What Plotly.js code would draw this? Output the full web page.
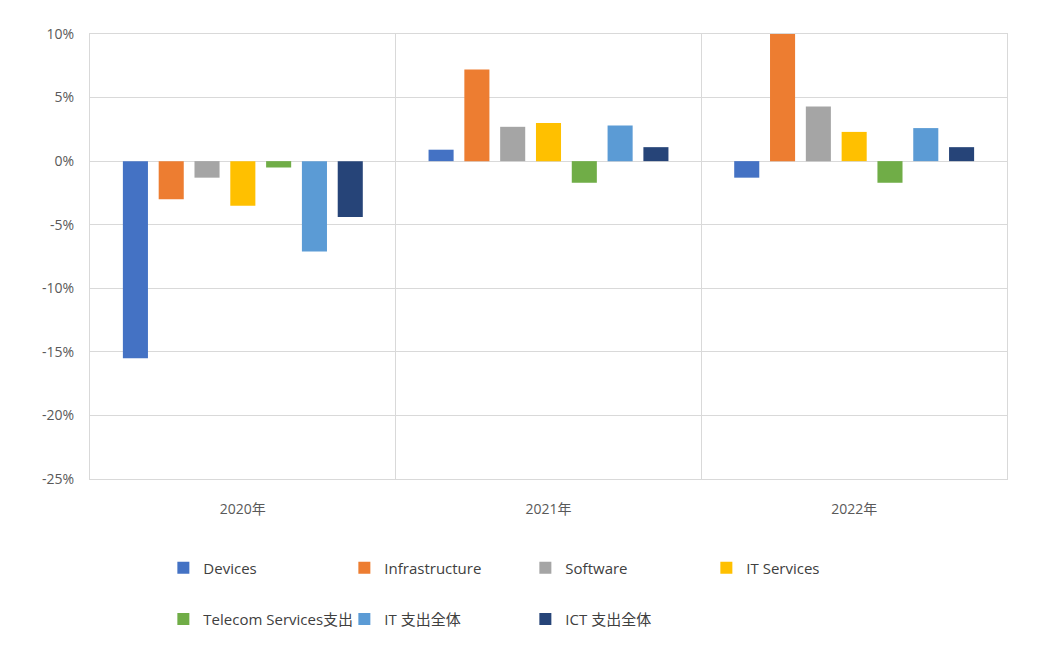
<!DOCTYPE html>
<html>
<head>
<meta charset="utf-8">
<script src="https://cdn.plot.ly/plotly-3.0.1.min.js"></script>
<style>
  html, body { margin: 0; padding: 0; background: #fff; }
  #chart { width: 1058px; height: 651px; }
</style>
</head>
<body>
<div id="chart"></div>
<script>
// growth rates by year, in percent
const years = ["2020年", "2021年", "2022年"];
const devices = [-15.5, 0.9, -1.3];
const infrastructure = [-3.0, 7.2, 10.0];
const software = [-1.3, 2.7, 4.3];
const itServices = [-3.5, 3.0, 2.3];
const telecom = [-0.5, -1.7, -1.7];
const itTotal = [-7.1, 2.8, 2.6];
const ictTotal = [-4.4, 1.1, 1.1];

const yTickVals = [10, 5, 0, -5, -10, -15, -20, -25];
const yTickText = ["10%", "5%", "0%", "-5%", "-10%", "-15%", "-20%", "-25%"];

const FONT = "'Open Sans', 'Noto Sans CJK JP', sans-serif";

const series = [
  { name: "Devices", y: devices, color: "#4472c4", legend: "legend" },
  { name: "Infrastructure", y: infrastructure, color: "#ed7d31", legend: "legend" },
  { name: "Software", y: software, color: "#a5a5a5", legend: "legend" },
  { name: "IT Services", y: itServices, color: "#ffc000", legend: "legend" },
  { name: "Telecom Services支出", y: telecom, color: "#70ad47", legend: "legend2" },
  { name: "IT 支出全体", y: itTotal, color: "#5b9bd5", legend: "legend2" },
  { name: "ICT 支出全体", y: ictTotal, color: "#264478", legend: "legend2" },
];

const traces = series.map((s) => ({
  type: "bar",
  name: s.name,
  x: years,
  y: s.y,
  marker: { color: s.color },
  legend: s.legend,
  hovertemplate: "%{x}<br>" + s.name + "=%{y:.1f}%<extra></extra>",
}));

// two legend rows, four entries then three, on a fixed pitch
const legendBase = {
  orientation: "h",
  x: 0.08,
  xanchor: "left",
  yanchor: "middle",
  entrywidth: 136,
  entrywidthmode: "pixels",
  font: { family: FONT, size: 15, color: "#404040" },
  bgcolor: "rgba(0,0,0,0)",
};

const layout = {
  width: 1058,
  height: 651,
  paper_bgcolor: "#ffffff",
  plot_bgcolor: "#ffffff",
  font: { family: FONT, color: "#595959", size: 13 },
  margin: { t: 34, r: 51, b: 172, l: 90, autoexpand: false },
  barmode: "group",
  bargap: 0.18,
  bargroupgap: 0.3,
  xaxis: {
    type: "category",
    tickson: "boundaries",
    showgrid: true,
    gridcolor: "#d9d9d9",
    ticks: "",
    showline: true,
    mirror: true,
    linecolor: "#d9d9d9",
    zeroline: false,
    ticklabelstandoff: 17,
    tickfont: { family: FONT, size: 14, color: "#595959" },
  },
  yaxis: {
    range: [-25, 10],
    tickvals: yTickVals,
    ticktext: yTickText,
    showgrid: true,
    gridcolor: "#d9d9d9",
    zeroline: false,
    showline: true,
    mirror: true,
    linecolor: "#d9d9d9",
    ticks: "",
    ticklabelstandoff: 12,
    tickfont: { family: FONT, size: 14, color: "#595959" },
  },
  legend: { ...legendBase, y: -0.2 },
  legend2: { ...legendBase, y: -0.315 },
};

Plotly.newPlot("chart", traces, layout, { displayModeBar: false });
</script>
</body>
</html>
